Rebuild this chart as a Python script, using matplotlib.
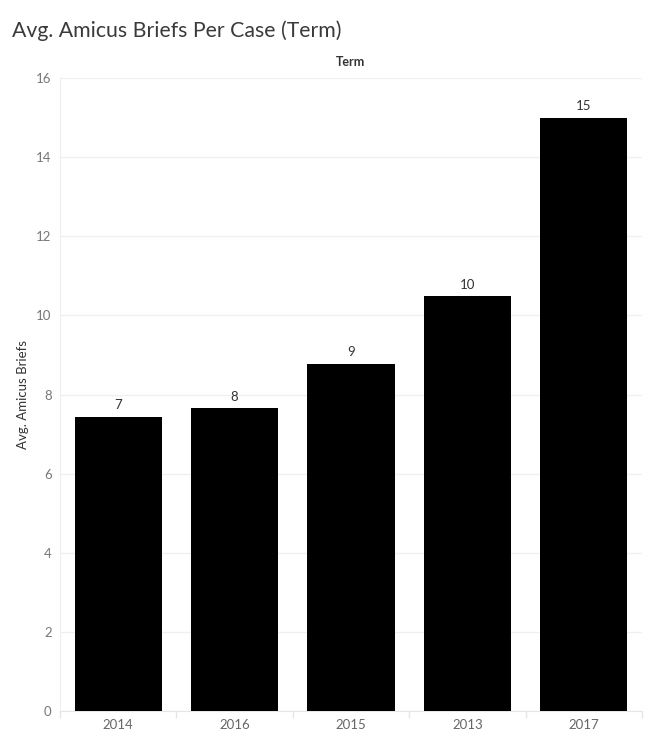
# -*- coding: utf-8 -*-
"""Avg. amicus briefs per case, by term (Tableau-style bar chart)."""

import matplotlib
matplotlib.use("Agg")
import matplotlib.pyplot as plt
import numpy as np

terms = ["2014", "2016", "2015", "2013", "2017"]
avg_briefs = [7.44, 7.65, 8.78, 10.48, 14.99]
y_ticks = [0, 2, 4, 6, 8, 10, 12, 14, 16]

plt.rcParams["font.family"] = ["Lato", "DejaVu Sans"]

W, H = 649, 739
fig = plt.figure(figsize=(W / 100, H / 100), dpi=100)
ax = fig.add_axes([60 / W, 1 - 711 / H, 582 / W, (711 - 78) / H])

x = np.arange(len(terms))
ax.bar(x, avg_briefs, width=0.75, color="black", zorder=3)
for xi, v in zip(x, avg_briefs):
    ax.annotate("{:.0f}".format(v), (xi, v), xytext=(0, 4), textcoords="offset points",
                ha="center", va="bottom", fontsize=9.5, color="#333333")

ax.set_xlim(-0.5, len(terms) - 0.5)
ax.set_ylim(0, 16)
ax.set_yticks(y_ticks)
ax.set_yticklabels([str(t) for t in y_ticks], fontsize=9.5, color="#777777")
ax.set_xticks(x)
ax.set_xticklabels(terms, fontsize=9.5, color="#666666")
ax.tick_params(axis="y", length=0, pad=6)
ax.tick_params(axis="x", length=0, pad=6)

# category boundary ticks under the axis
ax.set_xticks(np.arange(len(terms) + 1) - 0.5, minor=True)
ax.tick_params(axis="x", which="minor", length=5, color="#e6e6e6", width=1)

ax.grid(axis="y", color="#f0f0f0", linewidth=1, zorder=0)
for side in ["top", "right"]:
    ax.spines[side].set_visible(False)
ax.spines["left"].set_color("#eeeeee")
ax.spines["bottom"].set_color("#e6e6e6")

ax.set_ylabel("Avg. Amicus Briefs", fontsize=9.5, color="#333333", labelpad=5)

fig.text(12 / W, 1 - 31 / H, "Avg. Amicus Briefs Per Case (Term)", fontsize=15.3,
         color="#3a3a3a", va="center", ha="left")
fig.text(351 / W, 1 - 62 / H, "Term", fontsize=9, color="#333333",
         fontweight="bold", va="center", ha="center")

fig.savefig("out.png", dpi=100)
plt.close(fig)
